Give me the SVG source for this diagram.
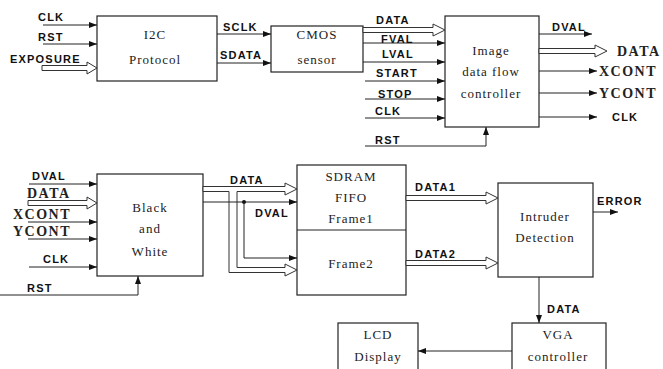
<svg xmlns="http://www.w3.org/2000/svg" width="663" height="369" viewBox="0 0 663 369">
<style>
.box{fill:#fff;stroke:#222;stroke-width:1.2}
.ln{fill:none;stroke:#222;stroke-width:1}
.hol{fill:#fff;stroke:#333;stroke-width:1}
.lb{font-family:"Liberation Sans",Arial,sans-serif;font-weight:bold;font-size:11px;letter-spacing:1.2px;fill:#111}
.sl{font-family:"Liberation Serif","Times New Roman",serif;font-weight:bold;font-size:14px;letter-spacing:1.5px;fill:#222}
.bt{font-family:"Liberation Serif","Times New Roman",serif;font-size:13px;letter-spacing:1px;fill:#222;text-anchor:middle}
</style>
<defs>
<marker id="ah" markerWidth="8" markerHeight="6" refX="8" refY="3" orient="auto" markerUnits="userSpaceOnUse">
<path d="M0,0 L8,3 L0,6 Z" fill="#111"/>
</marker>
</defs>
<rect width="663" height="369" fill="#fff"/>

<g id="i2c">
<rect class="box" x="97" y="16" width="120" height="65"/>
<text class="bt" x="155" y="39">I2C</text>
<text class="bt" x="155" y="64">Protocol</text>
</g>
<g id="cmos">
<rect class="box" x="271" y="26" width="92" height="46"/>
<text class="bt" x="317" y="39">CMOS</text>
<text class="bt" x="317" y="64">sensor</text>
</g>
<g id="idfc">
<rect class="box" x="445" y="16" width="94" height="111"/>
<text class="bt" x="491" y="55">Image</text>
<text class="bt" x="491" y="76">data flow</text>
<text class="bt" x="491" y="98">controller</text>
</g>
<g id="bw">
<rect class="box" x="97" y="174" width="106" height="102"/>
<text class="bt" x="150" y="212">Black</text>
<text class="bt" x="150" y="233">and</text>
<text class="bt" x="150" y="256">White</text>
</g>
<g id="sdram">
<rect class="box" x="297" y="165" width="109" height="130"/>
<line class="ln" x1="297" y1="230" x2="406" y2="230"/>
<text class="bt" x="351" y="181">SDRAM</text>
<text class="bt" x="351" y="202">FIFO</text>
<text class="bt" x="351" y="223">Frame1</text>
<text class="bt" x="351" y="268">Frame2</text>
</g>
<g id="intruder">
<rect class="box" x="498" y="183" width="95" height="94"/>
<text class="bt" x="545" y="221">Intruder</text>
<text class="bt" x="545" y="242">Detection</text>
</g>
<g id="vga">
<rect class="box" x="512" y="323" width="94" height="52"/>
<text class="bt" x="558" y="339">VGA</text>
<text class="bt" x="558" y="361">controller</text>
</g>
<g id="lcd">
<rect class="box" x="338" y="323" width="80" height="52"/>
<text class="bt" x="378" y="339">LCD</text>
<text class="bt" x="378" y="361">Display</text>
</g>

<g id="connectors">
<line class="ln" x1="43" y1="25" x2="97" y2="25" marker-end="url(#ah)"/>
<line class="ln" x1="43" y1="44" x2="97" y2="44" marker-end="url(#ah)"/>
<path class="hol" d="M42,65.5 H87 V62 L97,68 L87,74 V70.5 H42 Z"/>
<line class="ln" x1="217" y1="34" x2="271" y2="34" marker-end="url(#ah)"/>
<line class="ln" x1="217" y1="63" x2="271" y2="63" marker-end="url(#ah)"/>
<path class="hol" d="M363,27.5 H433 V24 L445,30 L433,36 V32.5 H363 Z"/>
<line class="ln" x1="363" y1="43" x2="445" y2="43" marker-end="url(#ah)"/>
<line class="ln" x1="363" y1="62" x2="445" y2="62" marker-end="url(#ah)"/>
<line class="ln" x1="365" y1="81" x2="445" y2="81" marker-end="url(#ah)"/>
<line class="ln" x1="365" y1="99" x2="445" y2="99" marker-end="url(#ah)"/>
<line class="ln" x1="365" y1="118" x2="445" y2="118" marker-end="url(#ah)"/>
<polyline class="ln" points="365,146 486,146 486,127" marker-end="url(#ah)"/>
<line class="ln" x1="539" y1="34" x2="592" y2="34" marker-end="url(#ah)"/>
<path class="hol" d="M539,48.5 H595 V45 L607,51 L595,57 V53.5 H539 Z"/>
<line class="ln" x1="539" y1="71" x2="597" y2="71" marker-end="url(#ah)"/>
<line class="ln" x1="539" y1="93" x2="597" y2="93" marker-end="url(#ah)"/>
<line class="ln" x1="539" y1="117" x2="597" y2="117" marker-end="url(#ah)"/>
<line class="ln" x1="29" y1="184" x2="97" y2="184" marker-end="url(#ah)"/>
<path class="hol" d="M28,200.5 H87 V197 L97,203 L87,209 V205.5 H28 Z"/>
<line class="ln" x1="28" y1="222" x2="97" y2="222" marker-end="url(#ah)"/>
<line class="ln" x1="28" y1="239" x2="97" y2="239" marker-end="url(#ah)"/>
<line class="ln" x1="29" y1="267" x2="97" y2="267" marker-end="url(#ah)"/>
<polyline class="ln" points="0,295 138,295 138,276" marker-end="url(#ah)"/>
<path class="hol" d="M203,186.5 H285 V183 L297,189 L285,195 V191.5 H237 V267.5 H285 V264 L297,270 L285,276 V272.5 H229 V191.5 H203 Z"/>
<line class="ln" x1="203" y1="202" x2="297" y2="202" marker-end="url(#ah)"/>
<circle cx="244" cy="202" r="2" fill="#111"/>
<polyline class="ln" points="244,202 244,258 297,258" marker-end="url(#ah)"/>
<path class="hol" d="M406,195.5 H486 V192 L498,198 L486,204 V200.5 H406 Z"/>
<path class="hol" d="M406,260.5 H486 V257 L498,263 L486,269 V265.5 H406 Z"/>
<line class="ln" x1="593" y1="212" x2="618" y2="212" marker-end="url(#ah)"/>
<line class="ln" x1="539" y1="277" x2="539" y2="323" marker-end="url(#ah)"/>
<line class="ln" x1="512" y1="351" x2="418" y2="351" marker-end="url(#ah)"/>
</g>

<g id="labels">
<text class="lb" x="38" y="21">CLK</text>
<text class="lb" x="38" y="41">RST</text>
<text class="lb" x="10" y="63">EXPOSURE</text>
<text class="lb" x="223" y="31">SCLK</text>
<text class="lb" x="220" y="59">SDATA</text>
<text class="lb" x="376" y="24">DATA</text>
<text class="lb" x="381" y="43">FVAL</text>
<text class="lb" x="382" y="58">LVAL</text>
<text class="lb" x="376" y="77">START</text>
<text class="lb" x="378" y="98">STOP</text>
<text class="lb" x="375" y="115">CLK</text>
<text class="lb" x="375" y="144">RST</text>
<text class="lb" x="552" y="31">DVAL</text>
<text class="sl" x="617" y="56">DATA</text>
<text class="sl" x="599" y="76">XCONT</text>
<text class="sl" x="599" y="98">YCONT</text>
<text class="lb" x="612" y="121">CLK</text>
<text class="lb" x="32" y="180">DVAL</text>
<text class="sl" x="27" y="198">DATA</text>
<text class="sl" x="13" y="219">XCONT</text>
<text class="sl" x="13" y="236">YCONT</text>
<text class="lb" x="43" y="263">CLK</text>
<text class="lb" x="27" y="292">RST</text>
<text class="lb" x="230" y="184">DATA</text>
<text class="lb" x="255" y="217">DVAL</text>
<text class="lb" x="415" y="191">DATA1</text>
<text class="lb" x="415" y="258">DATA2</text>
<text class="lb" x="597" y="205">ERROR</text>
<text class="lb" x="547" y="313">DATA</text>
</g>
</svg>
